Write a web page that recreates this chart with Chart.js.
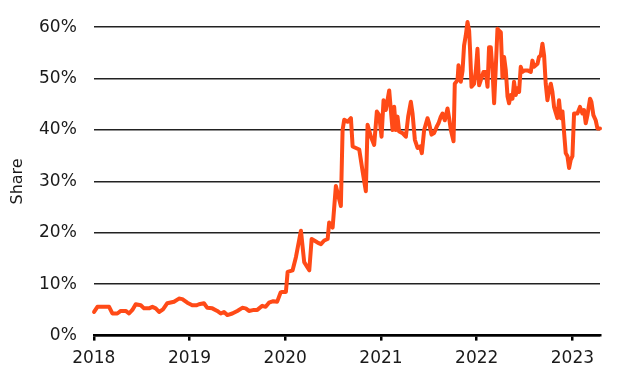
<!DOCTYPE html>
<html>
<head>
<meta charset="utf-8">
<script src="https://cdn.jsdelivr.net/npm/chart.js@4"></script>
<style>
  html, body { margin: 0; padding: 0; background: #fff; }
  #wrap { width: 640px; height: 383px; }
</style>
</head>
<body>
<div id="wrap"><canvas id="shareChart"></canvas></div>
<script>
// decimal year of each reading
const dates = [
  2018.003, 2018.038, 2018.160, 2018.194, 2018.246, 2018.282, 2018.334, 2018.368, 2018.403, 2018.438,
  2018.491, 2018.525, 2018.577, 2018.612, 2018.647, 2018.682, 2018.723, 2018.768, 2018.838, 2018.890,
  2018.925, 2018.977, 2019.029, 2019.071, 2019.099, 2019.151, 2019.186, 2019.238, 2019.290, 2019.326,
  2019.360, 2019.395, 2019.447, 2019.499, 2019.551, 2019.587, 2019.621, 2019.673, 2019.708, 2019.760,
  2019.795, 2019.830, 2019.875, 2019.916, 2019.952, 2019.969, 2020.007, 2020.025, 2020.077, 2020.112,
  2020.164, 2020.198, 2020.251, 2020.276, 2020.338, 2020.373, 2020.407, 2020.443, 2020.459, 2020.495,
  2020.529, 2020.581, 2020.599, 2020.616, 2020.651, 2020.686, 2020.704, 2020.773, 2020.808, 2020.842,
  2020.860, 2020.895, 2020.929, 2020.957, 2020.981, 2021.006, 2021.027, 2021.051, 2021.086, 2021.103,
  2021.121, 2021.138, 2021.156, 2021.173, 2021.190, 2021.225, 2021.260, 2021.284, 2021.312, 2021.330,
  2021.354, 2021.382, 2021.409, 2021.427, 2021.451, 2021.486, 2021.503, 2021.528, 2021.555, 2021.583,
  2021.601, 2021.625, 2021.643, 2021.667, 2021.695, 2021.712, 2021.730, 2021.758, 2021.771, 2021.800,
  2021.810, 2021.834, 2021.852, 2021.868, 2021.886, 2021.904, 2021.921, 2021.931, 2021.946, 2021.973,
  2021.991, 2022.008, 2022.025, 2022.043, 2022.071, 2022.095, 2022.113, 2022.129, 2022.147, 2022.165,
  2022.182, 2022.199, 2022.217, 2022.234, 2022.252, 2022.269, 2022.286, 2022.304, 2022.322, 2022.338,
  2022.356, 2022.374, 2022.390, 2022.408, 2022.426, 2022.443, 2022.460, 2022.478, 2022.502, 2022.530,
  2022.565, 2022.582, 2022.599, 2022.635, 2022.651, 2022.669, 2022.687, 2022.704, 2022.721, 2022.739,
  2022.756, 2022.774, 2022.791, 2022.808, 2022.843, 2022.860, 2022.878, 2022.896, 2022.912, 2022.930,
  2022.948, 2022.965, 2022.982, 2023.000, 2023.017, 2023.052, 2023.079, 2023.104, 2023.121, 2023.139,
  2023.157, 2023.184, 2023.198, 2023.219, 2023.243, 2023.261, 2023.288
];

// share in percent
const share = [
  4.6, 5.6, 5.6, 4.3, 4.3, 4.8, 4.8, 4.3, 5.0, 6.1,
  5.9, 5.3, 5.3, 5.6, 5.3, 4.6, 5.1, 6.3, 6.6, 7.2,
  7.1, 6.4, 5.9, 5.9, 6.1, 6.3, 5.4, 5.3, 4.8, 4.3,
  4.6, 4.0, 4.3, 4.8, 5.4, 5.3, 4.8, 5.0, 5.0, 5.8,
  5.6, 6.4, 6.7, 6.6, 8.4, 8.5, 8.5, 12.4, 12.7, 15.3,
  20.4, 14.3, 12.7, 18.8, 18.1, 17.8, 18.5, 18.8, 22.0, 21.0,
  29.1, 25.2, 40.0, 42.0, 41.6, 42.3, 36.8, 36.2, 32.0, 28.1,
  41.0, 38.7, 37.1, 43.6, 42.9, 38.7, 45.8, 43.9, 47.7, 43.9,
  40.0, 44.5, 40.0, 42.6, 39.7, 39.4, 38.7, 42.6, 45.5, 43.2,
  38.1, 36.5, 36.8, 35.5, 40.0, 42.3, 41.3, 39.1, 39.4, 40.7,
  41.3, 42.6, 43.2, 41.9, 44.2, 42.3, 40.0, 37.8, 49.0, 49.7,
  52.6, 49.4, 51.5, 56.4, 58.4, 61.0, 59.3, 55.5, 48.4, 49.0,
  51.6, 55.8, 48.7, 49.7, 51.3, 51.3, 48.4, 56.1, 56.1, 51.6,
  45.2, 52.0, 59.7, 59.3, 59.0, 50.3, 54.2, 51.6, 46.5, 45.2,
  46.8, 46.1, 49.4, 46.8, 48.1, 47.4, 52.3, 51.3, 51.6, 51.6,
  51.3, 53.5, 52.3, 52.9, 54.2, 54.5, 56.8, 54.5, 49.0, 45.8,
  47.7, 49.0, 47.4, 44.5, 42.3, 45.8, 42.3, 43.6, 39.7, 35.5,
  34.9, 32.6, 34.2, 34.9, 43.2, 43.2, 44.5, 43.2, 43.9, 41.3,
  42.9, 46.1, 45.5, 42.9, 41.9, 40.3, 40.3
];

const yearTicks = [2018, 2019, 2020, 2021, 2022, 2023];
const shareTicks = [0, 10, 20, 30, 40, 50, 60];

Chart.defaults.font.family = "'DejaVu Sans', sans-serif";
Chart.defaults.color = '#1a1a1a';

const points = dates.map((d, i) => ({ x: d, y: share[i] }));

var ctx = document.getElementById('shareChart');
new Chart(ctx, {
  type: 'line',
  data: {
    datasets: [{
      label: 'Share',
      data: points,
      borderColor: '#FF4A17',
      borderWidth: 4,
      borderJoinStyle: 'round',
      borderCapStyle: 'round',
      pointRadius: 0,
      tension: 0,
      fill: false,
      clip: false
    }]
  },
  options: {
    responsive: true,
    maintainAspectRatio: false,
    animation: false,
    layout: {
      padding: { left: 3, right: 40, top: 9, bottom: 6 }
    },
    plugins: {
      legend: { display: false },
      tooltip: { enabled: false }
    },
    scales: {
      x: {
        type: 'linear',
        min: 2018,
        max: 2023.288,
        afterBuildTicks: (axis) => {
          axis.ticks = yearTicks.map(v => ({ value: v }));
        },
        ticks: {
          autoSkip: false,
          maxRotation: 0,
          padding: 8,
          font: { size: 17 },
          callback: (v) => String(v)
        },
        grid: {
          drawOnChartArea: false,
          drawTicks: true,
          tickLength: 5,
          color: '#000',
          lineWidth: 2.5
        },
        border: { display: true, color: '#000', width: 2.5 }
      },
      y: {
        min: 0,
        max: 60,
        afterBuildTicks: (axis) => {
          axis.ticks = shareTicks.map(v => ({ value: v }));
        },
        ticks: {
          padding: 17,
          font: { size: 17 },
          callback: (v) => v + '%'
        },
        grid: {
          drawTicks: false,
          color: '#222',
          lineWidth: 1.5
        },
        border: { display: false },
        title: {
          display: true,
          text: 'Share',
          font: { size: 16, lineHeight: 0.5 },
          padding: { top: 11, bottom: 0 }
        }
      }
    }
  }
});
</script>
</body>
</html>
